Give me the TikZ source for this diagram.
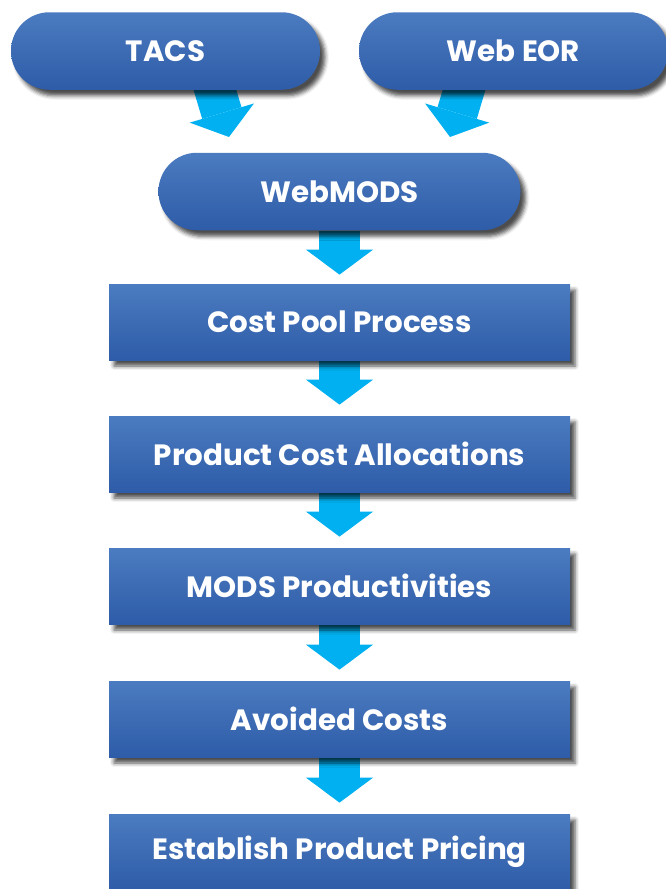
\documentclass[tikz,border=0pt]{standalone}
\usepackage{fontspec}
\setmainfont{Poppins}
\usetikzlibrary{arrows.meta,shadows.blur,backgrounds}
\definecolor{boxtop}{HTML}{4B7BC0}
\definecolor{boxbottom}{HTML}{2E5CA8}
\definecolor{flowcyan}{HTML}{00B0F0}

\begin{document}
\begin{tikzpicture}[
  box/.style={rectangle, minimum width=9.22cm, minimum height=1.52cm,
    top color=boxtop, bottom color=boxbottom, text=white,
    font=\bfseries\fontsize{16.7}{20}\selectfont,
    blur shadow={shadow xshift=0.1cm, shadow yshift=-0.12cm,
      shadow blur radius=0.08cm, shadow opacity=70}},
  pill/.style={box, rounded corners=0.77cm, minimum height=1.55cm},
  flow/.style={draw=flowcyan, line width=0.82cm,
    -{Triangle[width=1.34cm, length=0.5cm, line width=0pt]}}]
  \useasboundingbox (0,0) rectangle (13.3,-17.78);
  % sources
  \node[pill, minimum width=6.18cm] (tacs) at (3.31,-1.02) {TACS};
  \node[pill, minimum width=6.18cm] (webeor) at (10.27,-1.02) {Web EOR};
  \node[pill, minimum width=7.24cm] (webmods) at (6.79,-3.83) {WebMODS};
  % process chain
  \node[box] (costpool) at (6.79,-6.44) {Cost Pool Process};
  \node[box] (allocations) at (6.79,-9.08) {Product Cost Allocations};
  \node[box] (productivities) at (6.79,-11.72) {MODS Productivities};
  \node[box] (avoided) at (6.79,-14.38) {Avoided Costs};
  \node[box] (pricing) at (6.79,-17.04) {Establish Product Pricing};
  % arrow tips of the two slanted arrows
  \coordinate (tacsin) at (4.58,-2.74);
  \coordinate (webeorin) at (9.00,-2.74);
  % arrows go under the boxes and their shadows
  \begin{scope}[on background layer]
    \draw[flow] ([xshift=0.9cm,yshift=0.3cm]tacs.south) -- (tacsin);
    \draw[flow] ([xshift=-0.9cm,yshift=0.3cm]webeor.south) -- (webeorin);
    \draw[flow, shorten >=0.18cm] (webmods) -- (costpool);
    \draw[flow, shorten >=0.22cm] (costpool) -- (allocations);
    \draw[flow, shorten >=0.22cm] (allocations) -- (productivities);
    \draw[flow, shorten >=0.22cm] (productivities) -- (avoided);
    \draw[flow, shorten >=0.22cm] (avoided) -- (pricing);
  \end{scope}
\end{tikzpicture}
\end{document}
